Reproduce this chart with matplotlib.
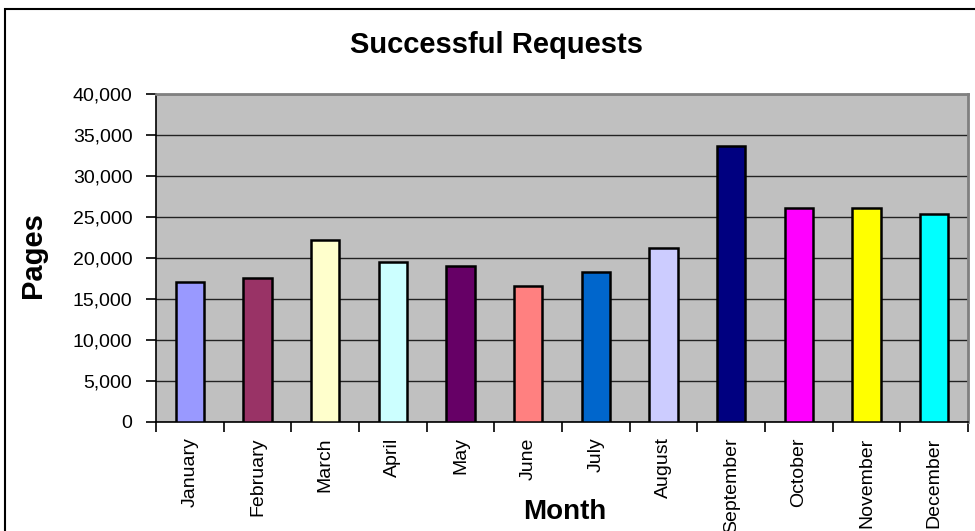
import matplotlib.pyplot as plt
from matplotlib.patches import Rectangle
from matplotlib.ticker import FuncFormatter

plt.rcParams['font.family'] = ['Liberation Sans', 'DejaVu Sans']

months = ['January', 'February', 'March', 'April', 'May', 'June', 'July',
          'August', 'September', 'October', 'November', 'December']
pages = [17100, 17550, 22200, 19500, 19050, 16600, 18300,
         21250, 33700, 26100, 26100, 25350]
bar_colors = ['#9999FF', '#993366', '#FFFFCC', '#CCFFFF', '#660066', '#FF8080',
              '#0066CC', '#CCCCFF', '#000080', '#FF00FF', '#FFFF00', '#00FFFF']

fig = plt.figure(figsize=(9.75, 5.31), dpi=100)
ax = fig.add_axes([156 / 975, 109 / 531, 812 / 975, 328 / 531])
ax.set_facecolor('#C0C0C0')

x = range(len(months))
ax.bar(x, pages, width=0.42, color=bar_colors, edgecolor='black', linewidth=1.8, zorder=3)

ax.set_xlim(-0.5, len(months) - 0.5)
ax.set_ylim(0, 40000)
ax.set_yticks(range(0, 40001, 5000))
ax.yaxis.set_major_formatter(FuncFormatter(lambda v, p: f'{int(v):,}'))
ax.grid(axis='y', color='#222222', linewidth=1.0, zorder=1)

ax.set_xticks(list(x))
ax.set_xticklabels(months, rotation=90, fontsize=14)
ax.set_xticks([i - 0.5 for i in range(len(months) + 1)], minor=True)
ax.tick_params(axis='x', which='major', length=0, pad=11)
ax.tick_params(axis='x', which='minor', length=7, width=1.2, direction='out')
ax.tick_params(axis='y', length=7, width=1.2, direction='out', labelsize=14, pad=10)

for side in ['left', 'bottom']:
    ax.spines[side].set_color('black')
    ax.spines[side].set_linewidth(1.2)
for side in ['top', 'right']:
    ax.spines[side].set_color('#808080')
    ax.spines[side].set_linewidth(2)

fig.text(0.509, 0.915, 'Successful Requests', ha='center', va='center',
         fontsize=21, fontweight='bold')
fig.text(0.579, 0.035, 'Month', ha='center', va='center',
         fontsize=20, fontweight='bold')
fig.text(0.034, 0.52, 'Pages', ha='center', va='center', rotation=90,
         fontsize=21, fontweight='bold')

# outer chart border, cut off on the right and bottom like the picture
fig.patches.append(Rectangle((5 / 975, -0.1), 1.2, 1.1 - 9 / 531, transform=fig.transFigure,
                             fill=False, edgecolor='black', linewidth=1.5, clip_on=False))

fig.savefig('out.png', dpi=100)
